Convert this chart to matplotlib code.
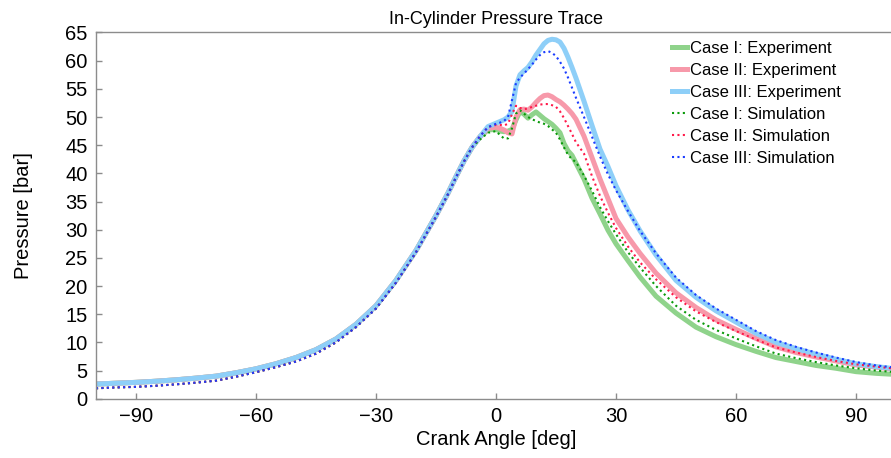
import matplotlib
matplotlib.use("Agg")
import matplotlib.pyplot as plt

plt.rcParams['font.family'] = ['Liberation Sans', 'DejaVu Sans']

# ---------------- data ----------------
angle = [-100, -95, -90, -85, -80, -75, -70, -65, -60, -55, -50, -45, -40, -35, -30,
         -25, -20, -15, -12, -10, -8, -6, -4, -2, 0, 1, 2, 3, 4, 5, 6, 7, 8, 9, 10,
         11, 12, 13, 14, 15, 16, 17, 18, 19, 20, 22, 24, 26, 28, 30, 33, 36, 40, 45,
         50, 55, 60, 65, 70, 75, 80, 85, 90, 95, 100]

compression_exp = [2.6, 2.75, 2.9, 3.1, 3.35, 3.65, 4.0, 4.6, 5.3, 6.2, 7.3, 8.7, 10.6,
                   13.2, 16.5, 21.0, 26.3, 32.5, 36.5, 39.4, 42.2, 44.6, 46.5]
compression_sim = [1.85, 2.0, 2.1, 2.3, 2.55, 2.85, 3.2, 3.9, 4.7, 5.6, 6.6, 8.0, 10.0,
                   12.7, 16.0, 20.6, 26.0, 32.3, 36.3, 39.3, 42.1, 44.6, 46.6]

case1_exp_tail = [47.7, 47.8, 47.5, 47.4, 47.5, 47.8, 49.5, 51.0, 50.5, 49.8, 50.4, 50.9,
                  50.3, 49.7, 49.2, 48.7, 48.0, 47.2, 45.3, 44.0, 43.2, 41.8, 39.0, 35.6,
                  32.8, 29.9, 27.5, 24.5, 21.6, 18.2, 15.2, 12.7, 11.0, 9.6, 8.4, 7.3,
                  6.6, 5.9, 5.4, 4.8, 4.5, 4.3]
case2_exp_tail = [48.0, 48.2, 48.0, 47.7, 47.2, 47.0, 50.0, 51.3, 51.4, 51.2, 51.8, 52.6,
                  53.3, 53.8, 53.9, 53.6, 53.1, 52.7, 52.1, 51.4, 50.6, 49.6, 46.6, 42.8,
                  39.0, 35.5, 32.0, 28.7, 25.8, 22.3, 18.8, 16.2, 14.0, 12.3, 10.7, 9.2,
                  8.2, 7.4, 6.7, 6.0, 5.6, 5.2]
case3_exp_tail = [48.3, 48.9, 49.2, 49.5, 50.0, 51.0, 55.5, 57.5, 58.2, 58.8, 59.8, 61.0,
                  62.0, 63.0, 63.6, 63.8, 63.7, 63.3, 62.2, 60.6, 58.8, 56.9, 52.8, 48.5,
                  44.3, 41.2, 37.8, 33.5, 29.8, 25.5, 21.0, 18.0, 15.6, 13.6, 11.6, 10.0,
                  8.9, 7.9, 7.0, 6.2, 5.7, 5.3]

case1_sim_tail = [47.2, 47.5, 46.8, 46.2, 46.2, 48.0, 50.6, 51.2, 50.6, 50.0, 49.6, 49.3,
                  49.0, 48.8, 48.4, 47.8, 47.2, 46.0, 44.6, 43.3, 42.5, 42.0, 39.6, 36.9,
                  34.0, 31.5, 29.2, 26.0, 23.3, 20.0, 16.5, 14.0, 12.2, 10.7, 9.3, 8.0,
                  7.2, 6.5, 5.9, 5.4, 5.0, 4.7]
case2_sim_tail = [48.2, 48.6, 48.6, 48.5, 48.8, 50.5, 52.0, 51.6, 51.4, 51.5, 51.8, 52.0,
                  52.2, 52.3, 52.3, 52.1, 51.8, 51.0, 49.8, 48.4, 47.0, 45.5, 43.5, 39.5,
                  36.0, 33.0, 30.3, 27.0, 24.2, 21.2, 18.0, 15.5, 13.6, 12.0, 10.5, 9.1,
                  8.2, 7.4, 6.7, 6.1, 5.7, 5.3]
case3_sim_tail = [48.2, 48.8, 49.0, 49.3, 50.0, 53.0, 56.0, 57.0, 57.7, 58.5, 59.3, 60.2,
                  61.0, 61.5, 61.7, 61.4, 60.8, 59.8, 58.6, 57.0, 55.2, 53.4, 50.0, 46.5,
                  43.0, 39.8, 37.0, 33.3, 29.8, 25.8, 21.5, 18.4, 16.0, 14.0, 12.0, 10.4,
                  9.2, 8.2, 7.3, 6.5, 5.9, 5.5]

case1_exp = compression_exp + case1_exp_tail
case2_exp = compression_exp + case2_exp_tail
case3_exp = compression_exp + case3_exp_tail
case1_sim = compression_sim[:-1] + [46.0] + case1_sim_tail
case2_sim = compression_sim + case2_sim_tail
case3_sim = compression_sim + case3_sim_tail

labels_exp = ["Case I: Experiment", "Case II: Experiment", "Case III: Experiment"]
labels_sim = ["Case I: Simulation", "Case II: Simulation", "Case III: Simulation"]

x_ticks = [-90, -60, -30, 0, 30, 60, 90]
y_ticks = list(range(0, 70, 5))

# ---------------- styling ----------------
exp_colors = ['#8fd38b', '#f799aa', '#8ecff8']
sim_colors = ['#0a9a0a', '#ff1a4a', '#1a3cff']

W, H = 891, 458
fig = plt.figure(figsize=(W / 100, H / 100), dpi=100)
ax = fig.add_axes([96 / W, (H - 398.7) / H, 800 / W, (398.7 - 32.5) / H])

for y, c, lab in zip([case1_exp, case2_exp, case3_exp], exp_colors, labels_exp):
    ax.plot(angle, y, color=c, lw=3.6, label=lab, solid_joinstyle='round')
for y, c, lab in zip([case1_sim, case2_sim, case3_sim], sim_colors, labels_sim):
    ax.plot(angle, y, color=c, lw=1.5, linestyle=(0, (1, 1.6)), label=lab)

ax.set_xlim(-100, 100)
ax.set_ylim(0, 65)
ax.set_xticks(x_ticks)
ax.set_xticklabels(["\u2212" + str(-t) if t < 0 else str(t) for t in x_ticks])
ax.set_yticks(y_ticks)

spine_col = '#8c8c8c'
for s in ax.spines.values():
    s.set_color(spine_col)
    s.set_linewidth(1.0)
ax.tick_params(direction='in', length=4, width=1, color=spine_col,
               labelsize=14.5, pad=6)

ax.set_xlabel("Crank Angle [deg]", fontsize=14.5, labelpad=3)
ax.set_ylabel("Pressure [bar]", fontsize=14.5, labelpad=23)
ax.set_title("In-Cylinder Pressure Trace", fontsize=13, pad=6)

leg = ax.legend(loc='upper left', bbox_to_anchor=(672 / W, (H - 41) / H),
                bbox_transform=fig.transFigure, frameon=False, fontsize=12,
                handlelength=0.9, handletextpad=0.15, labelspacing=0.42,
                borderaxespad=0, borderpad=0)

fig.savefig("out.png", dpi=100)
